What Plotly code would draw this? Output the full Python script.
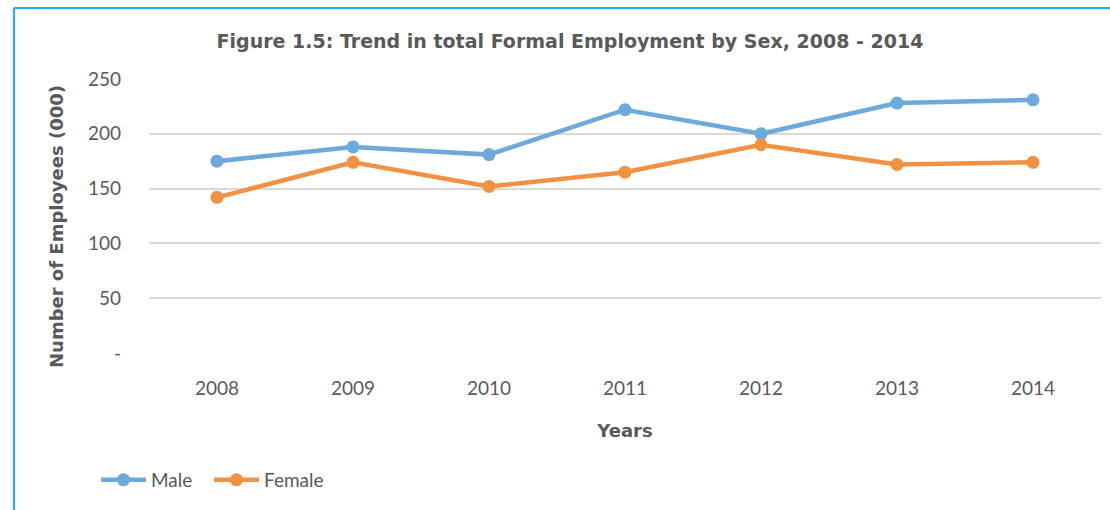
import plotly.graph_objects as go

years = ["2008", "2009", "2010", "2011", "2012", "2013", "2014"]
male = [175, 188, 181, 222, 200, 228, 231]
female = [142, 174, 152, 165, 190, 172, 174]
y_ticks = [0, 50, 100, 150, 200, 250]
y_tick_text = ["-", "50", "100", "150", "200", "250"]

BLUE = "#6CA9DC"
ORANGE = "#F39142"
GREY_TEXT = "#595959"
BOLD_FONT = "DejaVu Sans, sans-serif"
TEXT_FONT = "Lato, Open Sans, sans-serif"

fig = go.Figure()
fig.add_trace(go.Scatter(
    x=years, y=male, name="Male", mode="lines+markers", legend="legend",
    line=dict(color=BLUE, width=4.5), marker=dict(color=BLUE, size=13),
))
fig.add_trace(go.Scatter(
    x=years, y=female, name="Female", mode="lines+markers", legend="legend2",
    line=dict(color=ORANGE, width=4.5), marker=dict(color=ORANGE, size=13),
))

# left and top frame lines of the figure panel
L, R, T, B = 149, 9, 79, 157
W, H = 1110, 510
pw, ph = W - L - R, H - T - B

def px_x(p):
    return (p - L) / pw

def px_y(p):
    return (H - B - p) / ph

frame = dict(color="#1AB0EE", width=2)
fig.add_shape(type="line", xref="paper", yref="paper",
              x0=px_x(14), x1=px_x(14), y0=px_y(8), y1=px_y(512), line=frame)
fig.add_shape(type="line", xref="paper", yref="paper",
              x0=px_x(14), x1=px_x(1112), y0=px_y(8), y1=px_y(8), line=frame)

# vertical value-axis title
fig.add_annotation(
    text="<b>Number of Employees (000)</b>", textangle=-90,
    xref="paper", yref="paper", x=px_x(56), y=px_y(227),
    xanchor="center", yanchor="middle", showarrow=False,
    font=dict(family=BOLD_FONT, size=18, color=GREY_TEXT),
)

legend_style = dict(
    orientation="h", xanchor="left", y=px_y(480), yanchor="middle",
    font=dict(size=19, color=GREY_TEXT), itemwidth=45,
    bgcolor="rgba(0,0,0,0)",
)

fig.update_layout(
    width=W, height=H, autosize=False,
    margin=dict(l=L, r=R, t=T, b=B),
    plot_bgcolor="white", paper_bgcolor="white",
    font=dict(family=TEXT_FONT, color=GREY_TEXT, size=16),
    title=dict(
        text="<b>Figure 1.5: Trend in total Formal Employment by Sex, 2008 - 2014</b>",
        x=px_x(570), xref="paper", xanchor="center",
        y=1 - 41 / H, yanchor="middle",
        font=dict(family=BOLD_FONT, size=19, color=GREY_TEXT),
    ),
    xaxis=dict(
        type="category", range=[-0.5, len(years) - 0.5],
        showgrid=False, zeroline=False, showline=False,
        ticks="", tickfont=dict(size=19, color=GREY_TEXT),
        ticklabelstandoff=22,
        title=dict(text="<b>Years</b>", font=dict(family=BOLD_FONT, size=18, color=GREY_TEXT),
                   standoff=26),
    ),
    yaxis=dict(
        range=[0, 250], tickvals=y_ticks, ticktext=y_tick_text,
        showgrid=True, gridcolor="#D9D9D9", gridwidth=1.5,
        zeroline=False, showline=False, ticks="",
        tickfont=dict(size=19, color=GREY_TEXT), ticklabelstandoff=27,
    ),
    legend=dict(x=px_x(96), **legend_style),
    legend2=dict(x=px_x(209), **legend_style),
    showlegend=True,
)

fig.write_html("out.html")
